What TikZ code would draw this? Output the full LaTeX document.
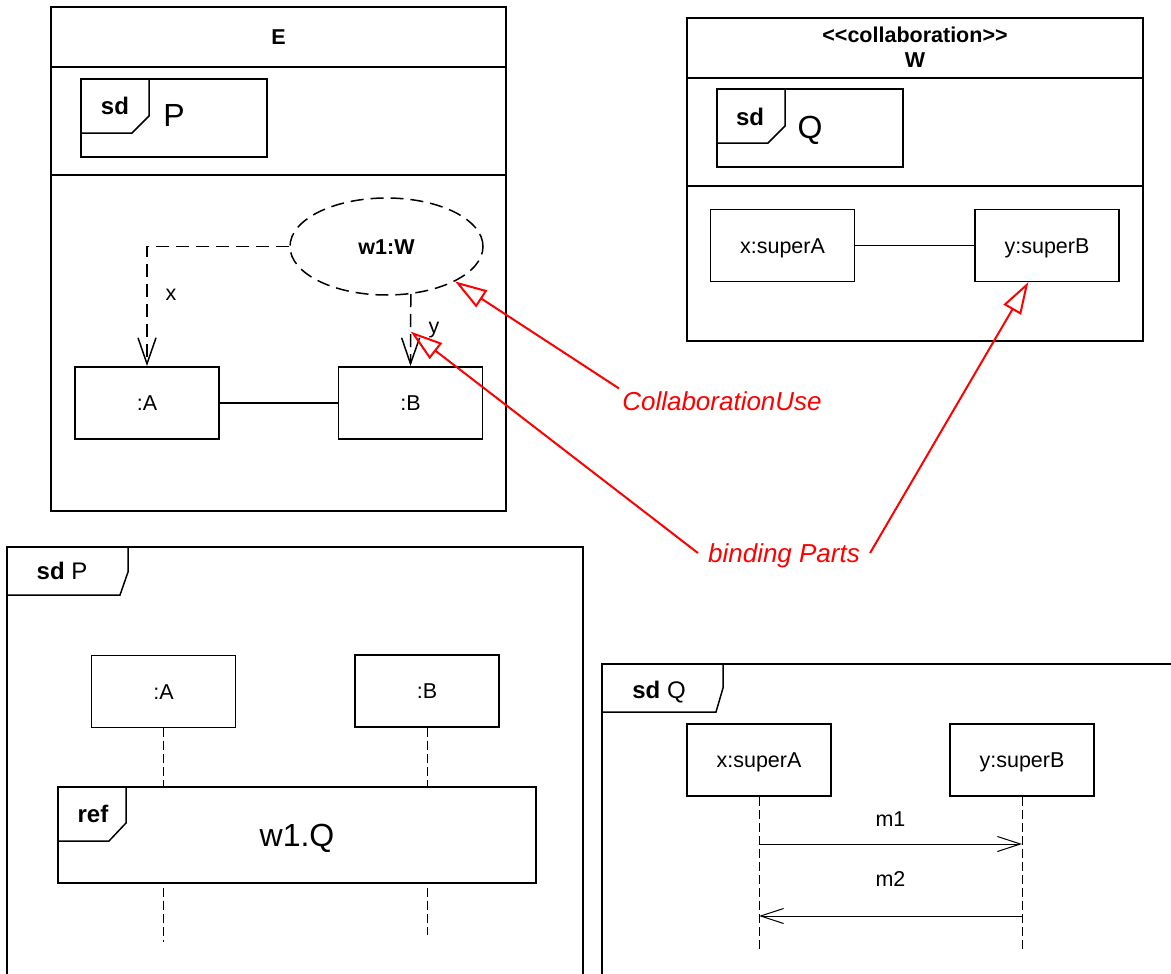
\documentclass[tikz,border=0pt]{standalone}
\usepackage{fontspec}
\setmainfont{Liberation Sans}
\usetikzlibrary{arrows.meta,shapes.geometric}

\tikzset{
  partbox/.style={draw, line width=1.8pt, minimum width=144pt, minimum height=72pt, inner sep=0pt},
  rolebox/.style={draw, line width=1.2pt, minimum width=144pt, minimum height=72pt, inner sep=0pt},
  depline/.style={line width=1.5pt, dash pattern=on 13pt off 7pt, -{Straight Barb[length=26pt,width=18pt]}},
  lifeline/.style={line width=1pt, dash pattern=on 9pt off 4pt},
  msgline/.style={line width=1pt, -{Straight Barb[length=23pt,width=15pt]}},
  redlabel/.style={text=red, font=\fontsize{26}{30}\selectfont\itshape, text height=18.6pt, inner sep=3pt},
  bindarrow/.style={red, line width=2pt, -{Triangle[open,length=32pt,width=20pt]}},
  bigname/.style={font=\fontsize{32}{38}\selectfont, text height=22.9pt},
  kw/.style={font=\fontsize{21.5}{26}\selectfont\bfseries, text height=15.4pt},
  tabkw/.style={font=\fontsize{24}{28}\selectfont, text height=17.2pt},
}

\begin{document}
\begin{tikzpicture}[x=1pt,y=-1pt,font=\fontsize{21.5}{26}\selectfont,
  every node/.append style={text height=15.4pt, text depth=0pt}]
  \useasboundingbox (0,0) rectangle (1171,974);

  % structured class E
  \draw[line width=1.8pt] (51,7) rectangle (506,511);
  \draw[line width=1.8pt] (51,67) -- (506,67) (51,175) -- (506,175);
  \node[kw] (Etitle) at (278.5,37) {E};
  \draw[line width=1.5pt] (81,79) rectangle (267,157);
  \draw[line width=1.5pt] (81,133) -- (132,133) -- (149,116) -- (149,79);
  \node[tabkw] (sdP) at (115,106) {\bfseries sd};
  \node[bigname] (Pname) at (174,115) {P};

  \node[partbox] (pA) at (147,403) {:A};
  \node[partbox] (pB) at (410.5,403) {:B};
  \draw[line width=1.8pt] (pA) -- (pB);
  \node[ellipse, draw, line width=1.5pt, dash pattern=on 13pt off 7pt,
    minimum width=193pt, minimum height=97pt, inner sep=0pt, kw] (w1) at (386.5,246.5) {w1:W};
  \draw[depline] (w1.west) -| (pA.north);
  \draw[depline] (w1.-63.4) -- (pB.north) coordinate[pos=0.52] (ylink);
  \node (xrole) at (171,293) {x};
  \node (yrole) at (434,326) {y};

  % collaboration W
  \draw[line width=1.2pt] (687,18) rectangle (1143,341);
  \draw[line width=1.2pt] (687,78) -- (1143,78) (687,186) -- (1143,186);
  \node[kw] (stereo) at (915,35) {<\kern0pt<collaboration>\kern0pt>};
  \node[kw] (Wname) at (915,60) {W};
  \draw[line width=1.5pt] (717,89) rectangle (903,167);
  \draw[line width=1.5pt] (717,143) -- (768,143) -- (785,126) -- (785,89);
  \node[tabkw] (sdQ) at (750,117) {\bfseries sd};
  \node[bigname] (Qname) at (810,127) {Q};
  \node[rolebox] (xsA) at (782.5,245.5) {x:superA};
  \node[rolebox] (ysB) at (1047,245.5) {y:superB};
  \draw[line width=1pt] (xsA) -- (ysB);

  % notes
  \node[redlabel] (colluse) at (722,401) {CollaborationUse};
  \node[redlabel, inner xsep=10pt] (bind) at (784,553) {binding Parts};
  \draw[bindarrow] (colluse.north west) -- (w1.-27.8);
  \draw[bindarrow] (bind.west) -- (ylink);
  \draw[bindarrow] (bind.east) -- (ysB.-117.8);

  % sd P
  \draw[line width=1.5pt] (7,974) -- (7,547) -- (583,547) -- (583,974);
  \draw[line width=1.5pt] (7,595) -- (120,595) -- (128,572) -- (128,547);
  \node[tabkw] (sdPtitle) at (62,571) {\textbf{sd} P};
  \node[rolebox] (lA) at (163.5,691.5) {:A};
  \node[rolebox] (lB) at (427,691) {:B};
  \node[draw, line width=1.8pt, minimum width=478pt, minimum height=96pt, inner sep=0pt,
    bigname] (refP) at (297,835) {w1.Q};
  \draw[line width=1.5pt] (58,841) -- (109,841) -- (126,823) -- (126,787);
  \node[tabkw] (refkw) at (93,814) {\bfseries ref};
  \coordinate (lAend) at (163.5,942);
  \coordinate (lBend) at (427,935);
  \draw[lifeline] (lA) -- (lA |- refP.north);
  \draw[lifeline] (lB) -- (lB |- refP.north);
  \draw[lifeline] ([yshift=-4pt]lA |- refP.south) -- (lAend);
  \draw[lifeline] ([yshift=-4pt]lB |- refP.south) -- (lBend);

  % sd Q
  \draw[line width=1.5pt] (602,974) -- (602,664) -- (1171,664);
  \draw[line width=1.5pt] (602,712) -- (716,712) -- (723,688) -- (723,664);
  \node[tabkw] (sdQtitle) at (659,690) {\textbf{sd} Q};
  \node[rolebox] (hA) at (759,760) {x:superA};
  \node[rolebox] (hB) at (1022,760) {y:superB};
  \coordinate (hAend) at (759,950);
  \coordinate (hBend) at (1022,950);
  \draw[lifeline] (hA) -- (hAend);
  \draw[lifeline] (hB) -- (hBend);
  \draw[msgline] (hA.south |- 0,844) -- (hB.south |- 0,844)
    node[midway, above=17pt, inner sep=0pt] (m1) {m1};
  \draw[msgline] (hB.south |- 0,916) -- (hA.south |- 0,916)
    node[midway, above=29pt, inner sep=0pt] (m2) {m2};
\end{tikzpicture}
\end{document}
